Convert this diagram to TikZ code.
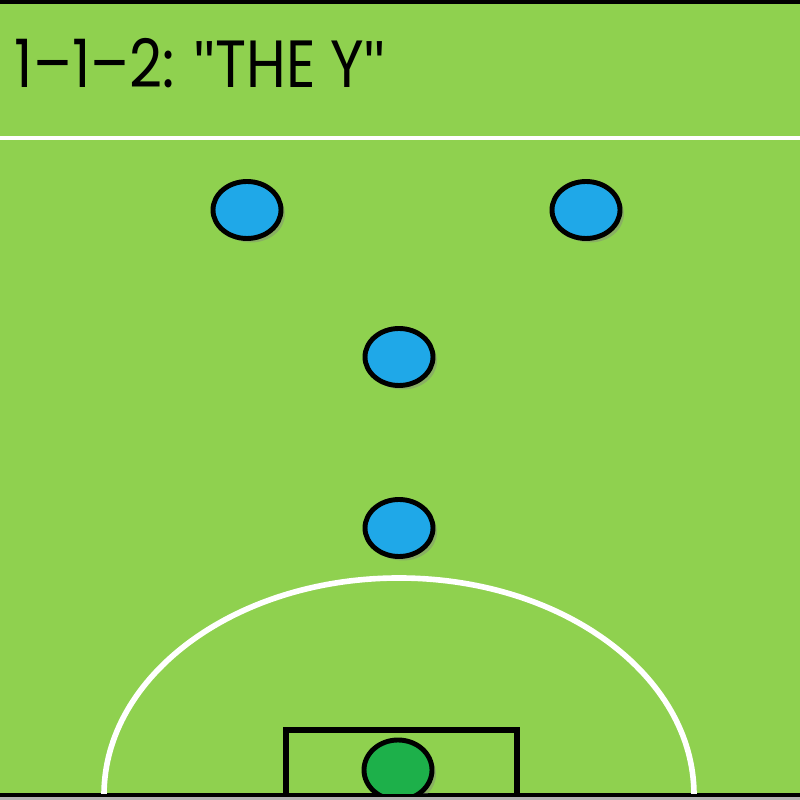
\documentclass[tikz,border=0pt]{standalone}
\usepackage{fontspec}
\setmainfont{Poppins}
\newfontfamily\quotefont{Liberation Sans}
\usetikzlibrary{shadows,shapes.geometric}
\definecolor{pitch}{HTML}{8FD14F}
\definecolor{shirt}{HTML}{1FA8E8}
\definecolor{keepershirt}{HTML}{1DB04A}
\newcommand{\straightquote}{{\quotefont\symbol{34}}}

\begin{document}
\begin{tikzpicture}[line width = 1pt,
		player/.style = {ellipse, draw, line width = 1.4pt, fill = shirt, minimum width = 0.68cm, minimum height = 0.57cm,
			drop shadow = {shadow xshift = 0.04cm, shadow yshift = -0.04cm, opacity = 0.4}},
		keeper/.style = {player, fill = keepershirt, minimum height = 0.6cm},
		chalk/.style = {white, line width = 1.4pt}]
		
		\useasboundingbox (0,0) rectangle (8,8);
		\fill [gray!60] (0,0) rectangle (8,8);
		\fill [pitch] (0,0.03) rectangle (8,7.96);
		\fill (0,7.96) rectangle (8,8);
		\fill (0,0.03) rectangle (8,0.065);
		
		\node [anchor = west, inner sep = 0pt, font = \fontsize{19}{22}\selectfont] (title) at (0.13,7.37)
			{\scalebox{0.86}[1]{1--1--2: \straightquote THE Y\straightquote}};
		\draw [chalk] (0,6.62) -- (8,6.62);
		
		\begin{scope}
		\clip (0,0.065) rectangle (8,8);
		\draw [chalk, line width = 1.6pt] (1.04,0.05) arc [start angle = 180, end angle = 0, x radius = 2.95cm, y radius = 2.17cm];
		\draw [line width = 1.6pt] (2.86,0.05) -- (2.86,0.7) -- (5.17,0.7) -- (5.17,0.05);
		\node [keeper] (gk) at (3.98,0.3) {};
		\end{scope}
		
		\node [player] (back) at (3.99,2.72) {};
		\node [player] (mid) at (3.99,4.43) {};
		\node [player] (left) at (2.47,5.9) {};
		\node [player] (right) at (5.86,5.9) {};
		
		\end{tikzpicture}
\end{document}
